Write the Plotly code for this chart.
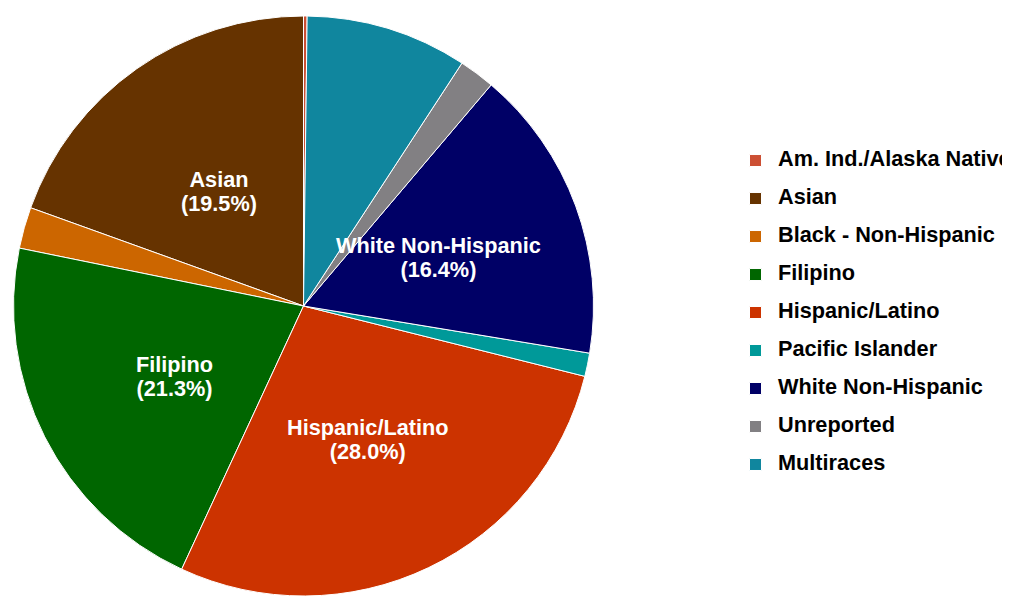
import math
import plotly.graph_objects as go

categories = ["Am. Ind./Alaska Native", "Asian", "Black - Non-Hispanic", "Filipino",
              "Hispanic/Latino", "Pacific Islander", "White Non-Hispanic", "Unreported", "Multiraces"]
values = [0.2, 19.5, 2.3, 21.3, 28.0, 1.3, 16.4, 2.0, 9.0]
shown_labels = ["", "Asian", "", "Filipino", "Hispanic/Latino", "", "White Non-Hispanic", "", ""]
colors = ["#CC4F33", "#663300", "#CC6600", "#006600", "#CC3300", "#009999", "#000066", "#828083", "#10869E"]

FONT = "Liberation Sans"
W, H = 1024, 588
MT = 8
PIE_W = 591          # pixel width of the pie domain
LEG_X = 725          # legend left edge, pixels
DOM_X = [0, PIE_W / W]
TXT = 21.7


def big(s):
    return f"<span style='font-size:{TXT}px'>{s}</span>"


legend_labels = [f"{big(c)}<br> " for c in categories]

fig = go.Figure(go.Pie(
    labels=legend_labels,
    values=values,
    textinfo="none",
    sort=False,
    direction="counterclockwise",
    rotation=0,
    marker=dict(colors=colors, line=dict(color="white", width=1)),
    domain=dict(x=DOM_X, y=[0, 1]),
    hoverinfo="skip",
))

# label annotations at half radius along each labelled slice's mid-angle
plot_h = H - MT
cx = (DOM_X[0] + DOM_X[1]) / 2 * W
cy = MT + plot_h / 2
R = min((DOM_X[1] - DOM_X[0]) * W, plot_h) / 2
total = sum(values)
cum = 0.0
for lab, v in zip(shown_labels, values):
    mid = (cum + v / 2) / total * 2 * math.pi
    cum += v
    if not lab:
        continue
    px = cx - 0.5 * R * math.sin(mid)
    py = cy - 0.5 * R * math.cos(mid)
    fig.add_annotation(
        x=px / W, y=(H - py) / plot_h, xref="paper", yref="paper",
        text=f"{big(lab)}<br>{big(f'({v / total * 100:.1f}%)')}", showarrow=False,
        xanchor="center", yanchor="middle", yshift=-3,
        font=dict(family=FONT, size=18.5, color="white", weight="bold"),
    )

fig.update_layout(
    width=W, height=H,
    margin=dict(l=0, r=0, t=MT, b=0),
    paper_bgcolor="white",
    plot_bgcolor="white",
    showlegend=True,
    legend=dict(
        x=LEG_X / W, y=0.7771, xanchor="left", yanchor="top",
        font=dict(family=FONT, size=13.46, color="black", weight="bold"),
        valign="top",
        itemwidth=35,
        bgcolor="rgba(0,0,0,0)",
    ),
)

fig.write_html("out.html")
